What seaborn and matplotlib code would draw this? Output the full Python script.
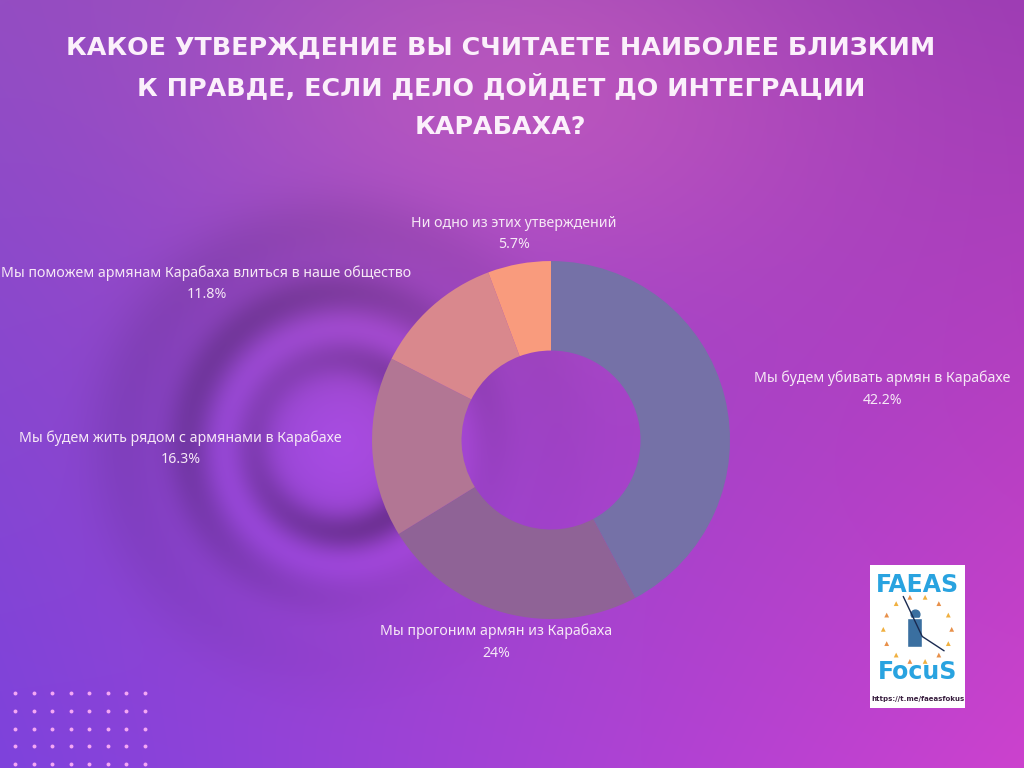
import numpy as np
import matplotlib.pyplot as plt
import seaborn as sns

# Data
answers = [
    "Мы будем убивать армян в Карабахе",
    "Мы прогоним армян из Карабаха",
    "Мы будем жить рядом с армянами в Карабахе",
    "Мы поможем армянам Карабаха влиться в наше общество",
    "Ни одно из этих утверждений",
]
shares = [42.2, 24, 16.3, 11.8, 5.7]
slice_colors = ["#7571a7", "#8f6396", "#b27694", "#d9888d", "#f99b7d"]
title_lines = [
    "КАКОЕ УТВЕРЖДЕНИЕ ВЫ СЧИТАЕТЕ НАИБОЛЕЕ БЛИЗКИМ",
    "К ПРАВДЕ, ЕСЛИ ДЕЛО ДОЙДЕТ ДО ИНТЕГРАЦИИ",
    "КАРАБАХА?",
]

# Style
sns.set_theme(style="white")
plt.rcParams["font.family"] = ["Noto Sans", "DejaVu Sans"]

fig = plt.figure(figsize=(10.24, 7.68), dpi=100)

# Background gradient with a shaded ring on the left
H, W = 768, 1024
yy, xx = np.mgrid[0:H, 0:W].astype(float)
u = xx / (W - 1)
v = yy / (H - 1)
tl = np.array([0x92, 0x4c, 0xc2]) / 255
tr = np.array([0x9c, 0x3c, 0xb4]) / 255
bl = np.array([0x7e, 0x42, 0xdc]) / 255
br = np.array([0xcc, 0x42, 0xce]) / 255
bg = (((1 - u) * (1 - v))[..., None] * tl + (u * (1 - v))[..., None] * tr
      + ((1 - u) * v)[..., None] * bl + (u * v)[..., None] * br)
spot = np.exp(-(((xx - 520) / 320) ** 2 + ((yy - 90) / 200) ** 2))
bg += spot[..., None] * np.array([0.12, 0.07, 0.0])

r = np.hypot(xx - 340, yy - 445)
ang = np.arctan2(-(yy - 445), xx - 340)
side = 0.55 + 0.45 * np.cos(ang - 2.4)
shade = (-0.20 * np.exp(-((r - 86) / 20) ** 2) * (1.6 - side)
         + 0.10 * np.exp(-(r / 70) ** 2)
         + 0.05 * np.exp(-((r - 118) / 18) ** 2)
         - 0.22 * np.exp(-((r - 152) / 24) ** 2) * side
         - 0.10 * np.exp(-((r - 215) / 40) ** 2) * side)
bg = bg * (1 + shade[..., None])
bg = np.clip(bg, 0, 1)

bgax = fig.add_axes([0, 0, 1, 1])
bgax.imshow(bg, extent=[0, W, H, 0], aspect="auto")
bgax.set_xlim(0, W)
bgax.set_ylim(H, 0)
bgax.axis("off")

# Dot grid bottom left
gx, gy = np.meshgrid(15 + 18.5 * np.arange(8), 693 + 17.8 * np.arange(5))
bgax.scatter(gx.ravel(), gy.ravel(), s=8, color="#f4a8f4", linewidths=0)

# Title
for i, line in enumerate(title_lines):
    fig.text(0.489, 1 - (47 + 40 * i) / 768, line, ha="center", va="center",
             fontsize=18.3, fontweight="bold", color="#fbf0fb",
             family=["DejaVu Sans"])

# Donut chart
ax = fig.add_axes([0.3633, 0.194, 0.3496, 0.4661])
wedges, texts = ax.pie(
    shares,
    labels=[f"{a}\n{s:g}%" for a, s in zip(answers, shares)],
    colors=slice_colors,
    startangle=90,
    counterclock=False,
    labeldistance=1.17,
    wedgeprops=dict(width=0.5, linewidth=0),
    textprops=dict(color="#f6e8f6", fontsize=10.2, linespacing=1.6,
                   multialignment="center"),
)
for t in texts:
    x, y = t.get_position()
    if abs(x) < 0.5:
        t.set_horizontalalignment("center")
ax.set_xlim(-1, 1)
ax.set_ylim(-1, 1)

# Logo
lax = fig.add_axes([870 / 1024, 60 / 768, 95 / 1024, 143 / 768])
lax.set_facecolor("white")
lax.set_xlim(0, 1)
lax.set_ylim(0, 1)
lax.set_xticks([])
lax.set_yticks([])
for s in lax.spines.values():
    s.set_visible(False)
lax.text(0.5, 0.86, "FAEAS", ha="center", va="center", fontsize=17,
         fontweight="bold", color="#29a3e0", family=["DejaVu Sans"])
lax.text(0.5, 0.25, "FocuS", ha="center", va="center", fontsize=17,
         fontweight="bold", color="#29a3e0", family=["DejaVu Sans"])
lax.text(0.5, 0.06, "https://t.me/faeasfokus", ha="center", va="center",
         fontsize=5, fontweight="bold", color="#3a2040", family=["DejaVu Sans"])
t = np.linspace(0, 2 * np.pi, 14, endpoint=False)
lax.scatter(0.5 + 0.36 * np.cos(t), 0.55 + 0.23 * np.sin(t), s=12,
            color=["#e8904a", "#f0b040"] * 7, marker="^", linewidths=0)
lax.scatter([0.47], [0.66], s=40, color="#3a6fa0")
lax.bar([0.47], [0.2], bottom=[0.43], width=0.16, color="#3a6fa0")
lax.plot([0.35, 0.55, 0.78], [0.78, 0.5, 0.4], color="#1a2a50", lw=1)

fig.savefig("out.png", dpi=100)
plt.close(fig)
